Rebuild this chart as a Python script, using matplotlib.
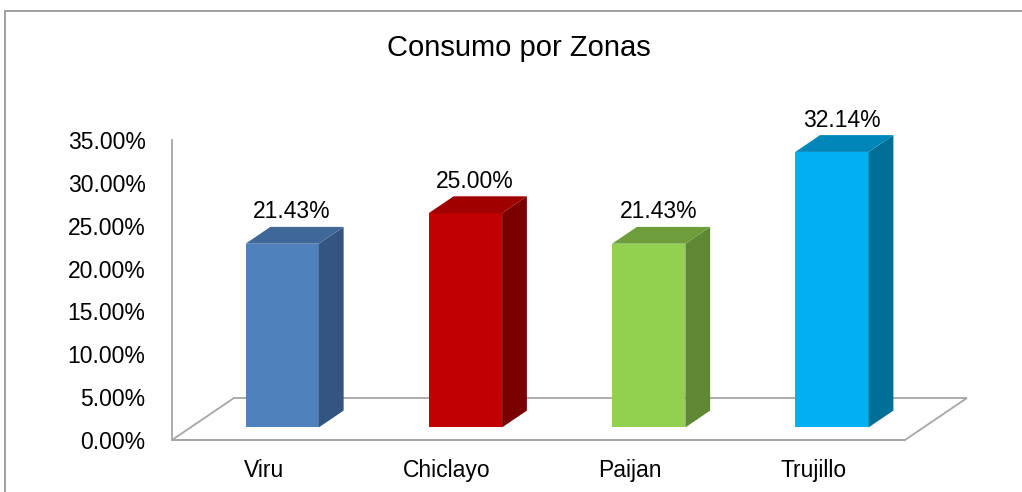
import matplotlib
matplotlib.use('Agg')
import matplotlib.pyplot as plt
from matplotlib.patches import Polygon, Rectangle
from matplotlib.ticker import FuncFormatter

plt.rcParams['font.family'] = ['Liberation Sans', 'DejaVu Sans']

# data
zonas = ['Viru', 'Chiclayo', 'Paijan', 'Trujillo']
consumo = [21.43, 25.00, 21.43, 32.14]
etiquetas = ['21.43%', '25.00%', '21.43%', '32.14%']

# colours: front, side, top
col_front = ['#4F81BD', '#C00000', '#92D050', '#00B0F0']
col_side = ['#34557F', '#7A0000', '#5E8833', '#006F98']
col_top = ['#3F6899', '#A00000', '#6E9E3C', '#0086B8']

fig = plt.figure(figsize=(10.22, 4.92), dpi=100)
W, H = 1022.0, 492.0

# chart frame (only the top and left edges are inside the crop)
fig.patches.append(Rectangle((5 / W, -0.1), 1.1, (H - 11) / H + 0.1,
                             transform=fig.transFigure, fill=False,
                             edgecolor='#9A9A9A', linewidth=1.3))

ax = fig.add_axes([172 / W, 52 / H, 733 / W, 300 / H])
ax.set_xlim(-0.5, 3.5)
ax.set_ylim(0, 35)

# depth of the floor, in data units
depth_x = 0.338
depth_y = 4.9
bar_w = 0.4
t_front, t_back = 0.3, 0.7

floor = Polygon([(-0.5, 0), (3.5, 0), (3.5 + depth_x, depth_y),
                 (-0.5 + depth_x, depth_y)], closed=True,
                facecolor='white', edgecolor='#A6A6A6', linewidth=1.3,
                clip_on=False, zorder=1)
ax.add_patch(floor)

fdx, fdy = t_front * depth_x, t_front * depth_y
bdx, bdy = (t_back - t_front) * depth_x, (t_back - t_front) * depth_y

for i, v in enumerate(consumo):
    x0 = i - bar_w / 2 + fdx
    x1 = x0 + bar_w
    y0 = fdy
    y1 = y0 + v
    ax.add_patch(Polygon([(x0, y0), (x1, y0), (x1, y1), (x0, y1)],
                         facecolor=col_front[i], edgecolor='none',
                         clip_on=False, zorder=3))
    ax.add_patch(Polygon([(x1, y0), (x1 + bdx, y0 + bdy), (x1 + bdx, y1 + bdy),
                          (x1, y1)], facecolor=col_side[i], edgecolor='none',
                         clip_on=False, zorder=3))
    ax.add_patch(Polygon([(x0, y1), (x1, y1), (x1 + bdx, y1 + bdy),
                          (x0 + bdx, y1 + bdy)], facecolor=col_top[i],
                         edgecolor='none', clip_on=False, zorder=3))
    ax.annotate(etiquetas[i], xy=(i + fdx + bdx / 2 - 0.015, y1 + bdy),
                xytext=(0, 2.5), textcoords='offset points',
                ha='center', va='bottom', fontsize=16.5, color='black',
                annotation_clip=False)

ax.set_xticks(range(len(zonas)))
ax.set_xticklabels(zonas)
ax.set_yticks([0, 5, 10, 15, 20, 25, 30, 35])
ax.yaxis.set_major_formatter(FuncFormatter(lambda y, p: '%.2f%%' % y))
ax.tick_params(axis='both', length=0, labelsize=16.5, colors='black')
ax.tick_params(axis='y', pad=19)
ax.tick_params(axis='x', pad=14)

for s in ['top', 'right']:
    ax.spines[s].set_visible(False)
ax.spines['left'].set_color('#A6A6A6')
ax.spines['bottom'].set_color('#A6A6A6')
ax.spines['left'].set_linewidth(1.3)
ax.spines['bottom'].set_linewidth(1.3)
ax.patch.set_visible(False)

fig.text(519 / W, 1 - 48 / H, 'Consumo por Zonas', ha='center', va='center',
         fontsize=21, color='black')

fig.savefig('out.png', dpi=100)
